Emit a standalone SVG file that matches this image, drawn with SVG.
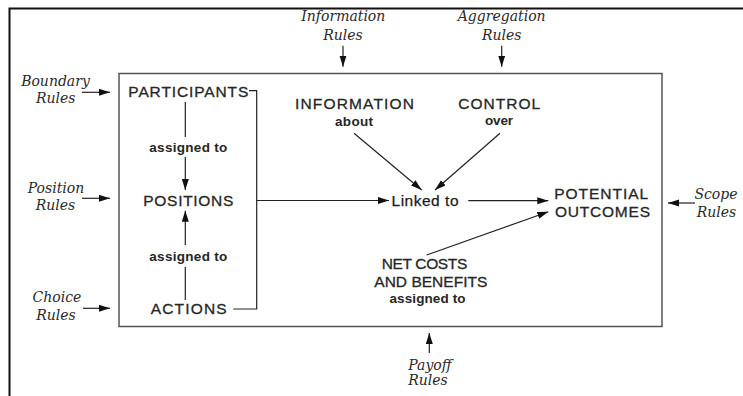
<svg xmlns="http://www.w3.org/2000/svg" width="743" height="396" viewBox="0 0 743 396">
<style>
.cap{font-family:"Liberation Sans",Arial,sans-serif;font-size:15.5px;fill:#262626;stroke:#262626;stroke-width:0.3;text-anchor:middle}
.sm{font-family:"Liberation Sans",Arial,sans-serif;font-size:13.5px;font-weight:bold;fill:#262626;text-anchor:middle}
.lk{font-family:"Liberation Sans",Arial,sans-serif;font-size:15.5px;fill:#1a1a1a;stroke:#1a1a1a;stroke-width:0.25;text-anchor:middle}
.rule{font-family:"DejaVu Serif","Liberation Serif",serif;font-style:italic;font-size:14px;fill:#2a2a2a;text-anchor:middle}
.ln{stroke:#222;stroke-width:1.2;fill:none}
.arr{stroke:#222;stroke-width:1.2;fill:none;marker-end:url(#ah)}
</style>
<defs>
<marker id="ah" markerUnits="userSpaceOnUse" markerWidth="12" markerHeight="8" refX="11" refY="3.5" orient="auto">
<path d="M0,0 L11,3.5 L0,7 z" fill="#111"/>
</marker>
</defs>
<rect width="743" height="396" fill="#fff"/>
<g id="frame">
<path d="M9.5,396 L9.5,8.5 L743,8.5" fill="none" stroke="#111" stroke-width="2"/>
</g>
<g id="actionSituation">
<rect x="119" y="73.5" width="543" height="253" fill="none" stroke="#555" stroke-width="1.5"/>
</g>
<g id="participants"><text class="cap" x="188.3" y="96.5" textLength="120" lengthAdjust="spacing">PARTICIPANTS</text></g>
<g id="positions"><text class="cap" x="188.3" y="206" textLength="90" lengthAdjust="spacing">POSITIONS</text></g>
<g id="actions"><text class="cap" x="188.7" y="314" textLength="76" lengthAdjust="spacing">ACTIONS</text></g>
<g id="assigned1"><text class="sm" x="188.3" y="151.5" textLength="78" lengthAdjust="spacing">assigned to</text></g>
<g id="assigned2"><text class="sm" x="188.3" y="260.5" textLength="78" lengthAdjust="spacing">assigned to</text></g>
<g id="information"><text class="cap" x="354.5" y="109" textLength="119" lengthAdjust="spacing">INFORMATION</text><text class="sm" x="354" y="125.7" textLength="38" lengthAdjust="spacing">about</text></g>
<g id="control"><text class="cap" x="499.2" y="109" textLength="82" lengthAdjust="spacing">CONTROL</text><text class="sm" x="499" y="125" textLength="28" lengthAdjust="spacing">over</text></g>
<g id="linked"><text class="lk" x="425" y="205.7" textLength="67" lengthAdjust="spacing">Linked to</text></g>
<g id="outcomes"><text class="cap" x="601.2" y="199.3" textLength="94" lengthAdjust="spacing">POTENTIAL</text><text class="cap" x="602.5" y="216.7" textLength="95" lengthAdjust="spacing">OUTCOMES</text></g>
<g id="netcosts"><text class="cap" x="424.5" y="269" textLength="85.6" lengthAdjust="spacing">NET COSTS</text><text class="cap" x="430.8" y="286.7" textLength="113" lengthAdjust="spacing">AND BENEFITS</text><text class="sm" x="427.5" y="303" textLength="76" lengthAdjust="spacing">assigned to</text></g>
<g id="boundaryRules"><text class="rule" x="55.5" y="86">Boundary</text><text class="rule" x="55.7" y="103">Rules</text></g>
<g id="positionRules"><text class="rule" x="56" y="193">Position</text><text class="rule" x="55.5" y="210">Rules</text></g>
<g id="choiceRules"><text class="rule" x="57" y="301.7">Choice</text><text class="rule" x="56" y="320">Rules</text></g>
<g id="informationRules"><text class="rule" x="343.3" y="21">Information</text><text class="rule" x="343" y="40">Rules</text></g>
<g id="aggregationRules"><text class="rule" x="501.7" y="20.7">Aggregation</text><text class="rule" x="501.7" y="40">Rules</text></g>
<g id="scopeRules"><text class="rule" x="716" y="199">Scope</text><text class="rule" x="716.5" y="216.7">Rules</text></g>
<g id="payoffRules"><text class="rule" x="430" y="370">Payoff</text><text class="rule" x="428" y="385">Rules</text></g>
<g id="connectors">
<line class="ln" x1="185.3" y1="102" x2="185.3" y2="137"/>
<line class="arr" x1="185.3" y1="157" x2="185.3" y2="190"/>
<line class="ln" x1="185.3" y1="300" x2="185.3" y2="267"/>
<line class="arr" x1="185.3" y1="245" x2="185.3" y2="210.7"/>
<path class="ln" d="M249,90.7 L256.7,90.7 L256.7,309 L233.3,309"/>
<line class="arr" x1="256.7" y1="200.5" x2="389" y2="200.5"/>
<line class="arr" x1="468.3" y1="200.7" x2="548.3" y2="200.7"/>
<line class="arr" x1="354" y1="133.3" x2="421.7" y2="190"/>
<line class="arr" x1="500" y1="133.3" x2="435" y2="190"/>
<line class="arr" x1="426.7" y1="255" x2="548.3" y2="211.7"/>
<line class="arr" x1="82" y1="92.3" x2="110" y2="92.3"/>
<line class="arr" x1="82" y1="198.3" x2="110" y2="198.3"/>
<line class="arr" x1="83" y1="308.3" x2="110" y2="308.3"/>
<line class="arr" x1="343" y1="45.7" x2="343" y2="66.7"/>
<line class="arr" x1="501.7" y1="45.7" x2="501.7" y2="66.7"/>
<line class="arr" x1="695" y1="203" x2="668" y2="203"/>
<line class="arr" x1="429.3" y1="353" x2="429.3" y2="333"/>
</g>
</svg>
